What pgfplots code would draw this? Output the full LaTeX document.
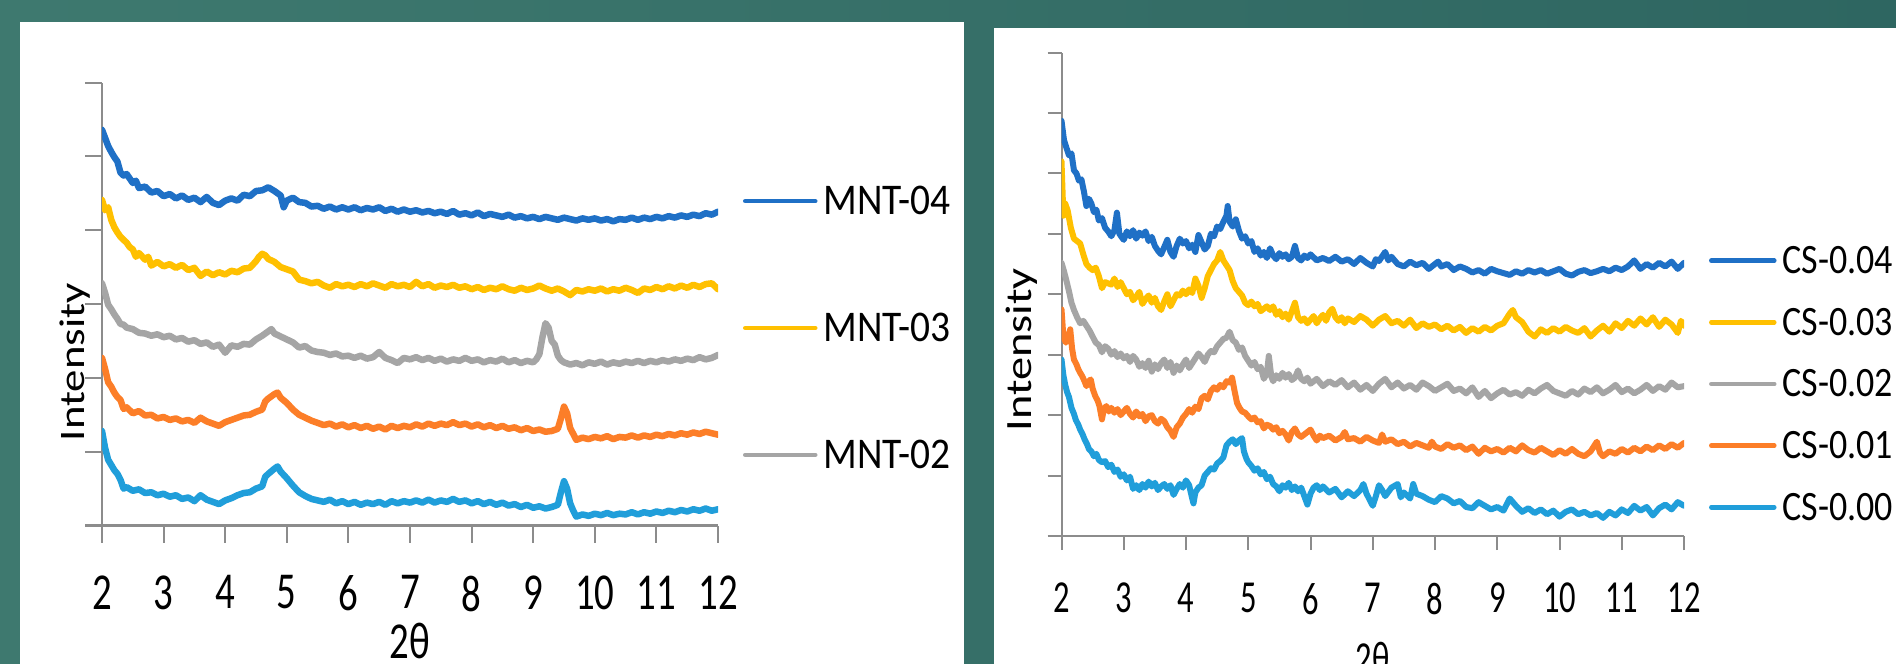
\documentclass[border=0pt]{standalone}
\usepackage{fontspec}
\usepackage{pgfplots}
\usepackage{pgfplotstable}
\pgfplotsset{compat=1.18}
\setmainfont{Carlito}
\newfontfamily\tickL[FakeStretch=0.75]{Carlito}
\newfontfamily\tickR[FakeStretch=0.71]{Carlito}
\newfontfamily\legL[FakeStretch=0.9]{Carlito}
\newfontfamily\legR[FakeStretch=0.86]{Carlito}

\definecolor{cDB}{RGB}{31,112,198}
\definecolor{cYe}{RGB}{255,192,0}
\definecolor{cGr}{RGB}{165,165,165}
\definecolor{cOr}{RGB}{252,126,40}
\definecolor{cLB}{RGB}{32,158,218}
\definecolor{axgray}{RGB}{140,140,140}
\definecolor{tealL}{RGB}{62,121,111}
\definecolor{tealR}{RGB}{46,102,97}

% ---------------- left panel (MNT) ----------------
\pgfplotstableread{
x y
2.0 5.36
2.05 5.25
2.1 5.14
2.15 5.06
2.2 4.99
2.25 4.93
2.3 4.78
2.35 4.74
2.4 4.76
2.5 4.64
2.55 4.67
2.6 4.57
2.7 4.59
2.8 4.51
2.9 4.53
3.0 4.46
3.1 4.49
3.2 4.43
3.3 4.47
3.4 4.41
3.5 4.44
3.6 4.38
3.7 4.45
3.8 4.37
3.9 4.34
4.0 4.40
4.1 4.43
4.2 4.40
4.3 4.48
4.4 4.46
4.5 4.53
4.6 4.54
4.7 4.58
4.8 4.53
4.9 4.47
4.95 4.31
5.0 4.40
5.1 4.44
5.2 4.38
5.3 4.37
5.4 4.32
5.5 4.33
5.6 4.29
5.7 4.32
5.8 4.28
5.9 4.31
6.0 4.28
6.1 4.31
6.2 4.27
6.3 4.30
6.4 4.28
6.5 4.31
6.6 4.26
6.7 4.29
6.8 4.25
6.9 4.28
7.0 4.25
7.1 4.27
7.2 4.24
7.3 4.26
7.4 4.23
7.5 4.25
7.6 4.22
7.7 4.26
7.8 4.21
7.9 4.23
8.0 4.20
8.1 4.24
8.2 4.19
8.3 4.22
8.4 4.20
8.5 4.18
8.6 4.21
8.7 4.17
8.8 4.19
8.9 4.16
9.0 4.18
9.1 4.15
9.2 4.18
9.3 4.16
9.4 4.14
9.5 4.17
9.6 4.15
9.7 4.13
9.8 4.16
9.9 4.14
10.0 4.16
10.1 4.13
10.2 4.15
10.3 4.12
10.4 4.15
10.5 4.14
10.6 4.17
10.7 4.14
10.8 4.17
10.9 4.15
11.0 4.18
11.1 4.16
11.2 4.19
11.3 4.17
11.4 4.20
11.5 4.18
11.6 4.21
11.7 4.19
11.8 4.23
11.9 4.21
12.0 4.25
}\tMNTfour

\pgfplotstableread{
x y
2.0 4.41
2.05 4.27
2.1 4.31
2.15 4.14
2.2 4.04
2.25 3.97
2.3 3.91
2.35 3.87
2.4 3.83
2.45 3.77
2.5 3.74
2.55 3.64
2.6 3.69
2.7 3.60
2.75 3.64
2.8 3.52
2.9 3.57
3.0 3.51
3.1 3.54
3.2 3.49
3.3 3.53
3.4 3.46
3.5 3.49
3.6 3.38
3.7 3.44
3.8 3.39
3.9 3.43
4.0 3.40
4.1 3.45
4.2 3.43
4.3 3.48
4.4 3.49
4.5 3.58
4.55 3.64
4.6 3.68
4.65 3.66
4.7 3.61
4.8 3.57
4.9 3.50
5.0 3.47
5.1 3.44
5.2 3.33
5.3 3.31
5.4 3.28
5.5 3.30
5.6 3.25
5.7 3.22
5.8 3.27
5.9 3.24
6.0 3.26
6.1 3.23
6.2 3.27
6.3 3.24
6.4 3.28
6.5 3.25
6.6 3.22
6.7 3.27
6.8 3.24
6.9 3.26
7.0 3.23
7.1 3.30
7.2 3.24
7.3 3.27
7.4 3.22
7.5 3.25
7.6 3.23
7.7 3.26
7.8 3.22
7.9 3.24
8.0 3.20
8.1 3.23
8.2 3.19
8.3 3.22
8.4 3.20
8.5 3.24
8.6 3.20
8.7 3.18
8.8 3.22
8.9 3.19
9.0 3.21
9.1 3.25
9.2 3.21
9.3 3.18
9.4 3.21
9.5 3.17
9.6 3.12
9.7 3.19
9.8 3.17
9.9 3.20
10.0 3.18
10.1 3.21
10.2 3.17
10.3 3.20
10.4 3.18
10.5 3.22
10.6 3.19
10.7 3.15
10.8 3.21
10.9 3.19
11.0 3.23
11.1 3.20
11.2 3.24
11.3 3.21
11.4 3.25
11.5 3.22
11.6 3.26
11.7 3.23
11.8 3.27
11.9 3.28
12.0 3.20
}\tMNTthree

\pgfplotstableread{
x y
2.0 3.28
2.05 3.15
2.1 2.99
2.15 2.93
2.2 2.86
2.25 2.80
2.3 2.73
2.35 2.72
2.4 2.68
2.5 2.66
2.6 2.61
2.7 2.60
2.8 2.57
2.9 2.59
3.0 2.55
3.1 2.57
3.2 2.52
3.3 2.54
3.4 2.49
3.5 2.51
3.6 2.46
3.7 2.48
3.8 2.42
3.9 2.45
4.0 2.34
4.1 2.44
4.2 2.42
4.3 2.46
4.4 2.45
4.5 2.52
4.6 2.57
4.7 2.63
4.75 2.66
4.8 2.60
4.9 2.56
5.0 2.52
5.1 2.48
5.2 2.41
5.3 2.43
5.4 2.37
5.5 2.35
5.6 2.34
5.7 2.31
5.8 2.33
5.9 2.29
6.0 2.30
6.1 2.27
6.2 2.30
6.3 2.26
6.4 2.28
6.5 2.35
6.6 2.27
6.7 2.24
6.8 2.20
6.9 2.27
7.0 2.25
7.1 2.28
7.2 2.24
7.3 2.27
7.4 2.23
7.5 2.26
7.6 2.22
7.7 2.25
7.8 2.23
7.9 2.27
8.0 2.23
8.1 2.25
8.2 2.21
8.3 2.24
8.4 2.22
8.5 2.26
8.6 2.21
8.7 2.24
8.8 2.20
8.9 2.23
9.0 2.21
9.05 2.25
9.1 2.32
9.15 2.55
9.2 2.74
9.25 2.68
9.3 2.50
9.35 2.45
9.4 2.30
9.45 2.24
9.5 2.21
9.6 2.18
9.7 2.20
9.8 2.17
9.9 2.21
10.0 2.19
10.1 2.22
10.2 2.18
10.3 2.21
10.4 2.19
10.5 2.22
10.6 2.20
10.7 2.23
10.8 2.20
10.9 2.23
11.0 2.21
11.1 2.24
11.2 2.22
11.3 2.25
11.4 2.23
11.5 2.26
11.6 2.24
11.7 2.28
11.8 2.25
11.9 2.27
12.0 2.31
}\tMNTtwo

\pgfplotstableread{
x y
2.0 2.27
2.05 2.12
2.1 1.94
2.15 1.88
2.2 1.80
2.25 1.74
2.3 1.70
2.35 1.58
2.4 1.60
2.5 1.52
2.6 1.55
2.7 1.49
2.8 1.50
2.9 1.45
3.0 1.47
3.1 1.43
3.2 1.45
3.3 1.41
3.4 1.43
3.5 1.39
3.6 1.46
3.7 1.41
3.8 1.38
3.9 1.35
4.0 1.40
4.1 1.43
4.2 1.46
4.3 1.49
4.4 1.50
4.5 1.54
4.6 1.57
4.65 1.68
4.7 1.72
4.8 1.78
4.85 1.80
4.9 1.73
5.0 1.66
5.1 1.57
5.2 1.50
5.3 1.46
5.4 1.42
5.5 1.39
5.6 1.36
5.7 1.38
5.8 1.34
5.9 1.37
6.0 1.33
6.1 1.36
6.2 1.32
6.3 1.35
6.4 1.31
6.5 1.34
6.6 1.30
6.7 1.35
6.8 1.32
6.9 1.35
7.0 1.33
7.1 1.37
7.2 1.34
7.3 1.38
7.4 1.35
7.5 1.38
7.6 1.36
7.7 1.40
7.8 1.36
7.9 1.38
8.0 1.34
8.1 1.37
8.2 1.33
8.3 1.36
8.4 1.32
8.5 1.35
8.6 1.31
8.7 1.33
8.8 1.29
8.9 1.32
9.0 1.28
9.1 1.30
9.2 1.27
9.3 1.28
9.4 1.31
9.45 1.45
9.5 1.61
9.55 1.52
9.6 1.32
9.65 1.24
9.7 1.16
9.8 1.19
9.9 1.17
10.0 1.20
10.1 1.18
10.2 1.21
10.3 1.17
10.4 1.20
10.5 1.19
10.6 1.22
10.7 1.19
10.8 1.22
10.9 1.20
11.0 1.23
11.1 1.21
11.2 1.24
11.3 1.22
11.4 1.25
11.5 1.23
11.6 1.26
11.7 1.24
11.8 1.27
11.9 1.25
12.0 1.23
}\tMNTone

\pgfplotstableread{
x y
2.0 1.28
2.05 1.05
2.1 0.89
2.15 0.82
2.2 0.75
2.25 0.70
2.3 0.62
2.35 0.50
2.4 0.52
2.5 0.47
2.6 0.49
2.7 0.44
2.8 0.45
2.9 0.41
3.0 0.43
3.1 0.39
3.2 0.41
3.3 0.36
3.4 0.38
3.5 0.33
3.6 0.41
3.7 0.35
3.8 0.32
3.9 0.29
4.0 0.34
4.1 0.37
4.2 0.41
4.3 0.44
4.4 0.45
4.5 0.50
4.6 0.53
4.65 0.66
4.7 0.70
4.8 0.77
4.85 0.80
4.9 0.73
5.0 0.64
5.1 0.54
5.2 0.45
5.3 0.40
5.4 0.36
5.5 0.34
5.6 0.32
5.7 0.35
5.8 0.30
5.9 0.33
6.0 0.29
6.1 0.32
6.2 0.28
6.3 0.31
6.4 0.29
6.5 0.32
6.6 0.28
6.7 0.33
6.8 0.30
6.9 0.33
7.0 0.31
7.1 0.34
7.2 0.31
7.3 0.35
7.4 0.31
7.5 0.34
7.6 0.32
7.7 0.36
7.8 0.32
7.9 0.34
8.0 0.30
8.1 0.33
8.2 0.29
8.3 0.32
8.4 0.28
8.5 0.31
8.6 0.27
8.7 0.29
8.8 0.25
8.9 0.28
9.0 0.24
9.1 0.26
9.2 0.23
9.3 0.25
9.4 0.28
9.45 0.45
9.5 0.60
9.55 0.50
9.6 0.30
9.65 0.20
9.7 0.12
9.8 0.15
9.9 0.13
10.0 0.16
10.1 0.14
10.2 0.17
10.3 0.14
10.4 0.16
10.5 0.15
10.6 0.18
10.7 0.15
10.8 0.18
10.9 0.16
11.0 0.19
11.1 0.17
11.2 0.20
11.3 0.18
11.4 0.21
11.5 0.19
11.6 0.22
11.7 0.20
11.8 0.23
11.9 0.20
12.0 0.22
}\tMNTzero

% ---------------- right panel (CS) ----------------
\pgfplotstableread{
x y
2.00 6.87
2.04 6.55
2.08 6.42
2.12 6.30
2.16 6.33
2.20 6.05
2.24 6.00
2.28 5.88
2.32 5.90
2.36 5.70
2.40 5.46
2.44 5.58
2.48 5.50
2.52 5.36
2.56 5.40
2.60 5.22
2.65 5.26
2.70 5.10
2.75 5.04
2.80 4.96
2.85 5.06
2.89 5.35
2.93 5.00
2.97 4.94
3.00 4.90
3.05 5.04
3.10 4.96
3.15 5.06
3.20 4.92
3.25 5.02
3.30 4.97
3.35 5.04
3.40 4.88
3.45 4.95
3.50 4.80
3.55 4.72
3.60 4.66
3.65 4.78
3.70 4.90
3.75 4.70
3.80 4.62
3.85 4.80
3.90 4.92
3.95 4.84
4.00 4.88
4.05 4.76
4.10 4.82
4.15 4.70
4.20 4.98
4.25 4.86
4.30 4.74
4.35 4.80
4.40 5.00
4.45 4.96
4.50 5.12
4.55 5.08
4.60 5.20
4.65 5.30
4.67 5.46
4.70 5.20
4.75 5.12
4.80 5.24
4.85 5.05
4.90 4.92
4.95 4.96
5.00 4.84
5.05 4.88
5.10 4.70
5.15 4.76
5.20 4.64
5.25 4.70
5.30 4.60
5.35 4.76
5.40 4.64
5.45 4.58
5.50 4.68
5.55 4.62
5.60 4.66
5.65 4.58
5.70 4.62
5.75 4.80
5.80 4.60
5.85 4.56
5.90 4.64
5.95 4.60
6.00 4.66
6.10 4.56
6.20 4.60
6.30 4.55
6.40 4.62
6.50 4.54
6.60 4.58
6.70 4.50
6.80 4.60
6.90 4.52
7.00 4.46
7.05 4.58
7.10 4.55
7.20 4.70
7.25 4.56
7.30 4.62
7.40 4.50
7.50 4.46
7.60 4.54
7.70 4.48
7.80 4.52
7.90 4.42
8.00 4.50
8.05 4.54
8.10 4.46
8.20 4.50
8.30 4.40
8.40 4.46
8.50 4.42
8.60 4.36
8.70 4.40
8.80 4.34
8.90 4.42
9.00 4.38
9.10 4.35
9.20 4.32
9.30 4.38
9.40 4.34
9.50 4.40
9.60 4.36
9.70 4.40
9.80 4.34
9.90 4.38
10.00 4.42
10.10 4.34
10.20 4.31
10.30 4.37
10.40 4.40
10.50 4.35
10.60 4.38
10.70 4.42
10.80 4.38
10.90 4.44
11.00 4.40
11.10 4.46
11.20 4.56
11.30 4.42
11.40 4.50
11.50 4.44
11.60 4.52
11.70 4.46
11.80 4.54
11.90 4.42
12.00 4.52
}\tCSfour

\pgfplotstableread{
x y
2.00 6.20
2.03 5.30
2.06 5.50
2.10 5.38
2.15 5.10
2.20 4.92
2.25 4.88
2.30 4.84
2.35 4.66
2.40 4.50
2.45 4.44
2.50 4.40
2.55 4.44
2.60 4.30
2.65 4.10
2.70 4.20
2.75 4.18
2.80 4.16
2.85 4.26
2.90 4.12
2.95 4.20
3.00 4.10
3.05 4.00
3.10 4.04
3.15 3.90
3.20 3.96
3.25 4.04
3.30 3.84
3.35 3.92
3.40 3.98
3.45 3.86
3.50 3.94
3.55 3.80
3.60 3.74
3.65 3.88
3.70 4.00
3.75 3.80
3.80 3.90
3.85 4.00
3.90 3.98
3.95 4.06
4.00 4.00
4.05 4.08
4.10 4.02
4.15 4.26
4.20 4.14
4.25 3.94
4.30 4.10
4.35 4.30
4.40 4.40
4.45 4.50
4.50 4.56
4.55 4.70
4.60 4.56
4.65 4.48
4.70 4.40
4.75 4.22
4.80 4.10
4.85 4.04
4.90 3.98
4.95 3.86
5.00 3.82
5.05 3.88
5.10 3.80
5.15 3.84
5.20 3.72
5.25 3.76
5.30 3.80
5.35 3.74
5.40 3.80
5.45 3.66
5.50 3.72
5.55 3.62
5.60 3.68
5.65 3.58
5.70 3.72
5.75 3.86
5.80 3.62
5.85 3.56
5.90 3.60
5.95 3.52
6.00 3.58
6.05 3.64
6.10 3.52
6.15 3.60
6.20 3.66
6.25 3.56
6.30 3.70
6.35 3.76
6.40 3.62
6.45 3.56
6.50 3.62
6.55 3.52
6.60 3.60
6.70 3.54
6.80 3.64
6.90 3.58
7.00 3.48
7.10 3.58
7.20 3.64
7.30 3.52
7.40 3.56
7.50 3.48
7.60 3.58
7.70 3.44
7.80 3.52
7.90 3.46
8.00 3.50
8.10 3.42
8.20 3.48
8.30 3.40
8.40 3.46
8.50 3.36
8.60 3.44
8.70 3.38
8.80 3.46
8.90 3.40
9.00 3.48
9.10 3.52
9.20 3.68
9.25 3.74
9.30 3.62
9.40 3.54
9.50 3.38
9.60 3.30
9.70 3.42
9.80 3.36
9.90 3.44
10.00 3.38
10.10 3.46
10.20 3.40
10.30 3.36
10.40 3.44
10.50 3.30
10.60 3.40
10.70 3.48
10.80 3.38
10.90 3.52
11.00 3.44
11.10 3.56
11.20 3.48
11.30 3.60
11.40 3.50
11.50 3.62
11.60 3.46
11.70 3.58
11.80 3.50
11.90 3.36
11.95 3.56
12.00 3.48
}\tCSthree

\pgfplotstableread{
x y
2.00 4.52
2.04 4.38
2.08 4.22
2.12 4.05
2.16 3.86
2.20 3.74
2.25 3.62
2.30 3.52
2.35 3.56
2.40 3.48
2.45 3.40
2.50 3.30
2.55 3.20
2.60 3.16
2.65 3.04
2.70 3.14
2.75 3.10
2.80 3.00
2.85 3.06
2.90 2.96
2.95 3.02
3.00 2.94
3.05 2.98
3.10 2.88
3.15 2.98
3.20 2.92
3.25 2.80
3.30 2.86
3.35 2.78
3.40 2.90
3.45 2.72
3.50 2.84
3.55 2.76
3.60 2.86
3.65 2.92
3.70 2.78
3.75 2.88
3.80 2.70
3.85 2.82
3.90 2.74
3.95 2.84
4.00 2.92
4.05 2.78
4.10 2.86
4.15 2.94
4.20 3.02
4.25 2.96
4.30 2.88
4.35 3.00
4.40 3.06
4.45 3.04
4.50 3.14
4.55 3.20
4.60 3.26
4.65 3.28
4.70 3.38
4.75 3.24
4.80 3.20
4.85 3.08
4.90 3.12
4.95 2.98
5.00 2.90
5.05 2.82
5.10 2.88
5.15 2.76
5.20 2.80
5.25 2.60
5.30 2.70
5.33 2.98
5.37 2.64
5.40 2.56
5.45 2.66
5.50 2.60
5.55 2.70
5.60 2.62
5.65 2.68
5.70 2.58
5.75 2.62
5.80 2.74
5.85 2.60
5.90 2.56
5.95 2.62
6.00 2.52
6.10 2.60
6.20 2.48
6.30 2.56
6.40 2.50
6.50 2.58
6.60 2.46
6.70 2.54
6.80 2.42
6.90 2.50
7.00 2.40
7.10 2.52
7.20 2.60
7.30 2.46
7.40 2.54
7.50 2.44
7.60 2.50
7.70 2.42
7.80 2.54
7.90 2.48
8.00 2.40
8.10 2.46
8.20 2.52
8.30 2.40
8.40 2.44
8.50 2.36
8.60 2.46
8.70 2.30
8.80 2.40
8.90 2.28
9.00 2.36
9.10 2.42
9.20 2.34
9.30 2.38
9.40 2.32
9.50 2.42
9.60 2.36
9.70 2.44
9.80 2.50
9.90 2.40
10.00 2.36
10.10 2.32
10.20 2.40
10.30 2.34
10.40 2.44
10.50 2.38
10.60 2.46
10.70 2.36
10.80 2.42
10.90 2.50
11.00 2.38
11.10 2.44
11.20 2.36
11.30 2.42
11.40 2.50
11.50 2.40
11.60 2.48
11.70 2.42
11.80 2.54
11.90 2.46
12.00 2.48
}\tCStwo

\pgfplotstableread{
x y
2.00 3.75
2.03 3.30
2.07 3.20
2.11 3.30
2.14 3.42
2.17 3.10
2.20 2.92
2.24 2.84
2.27 2.76
2.30 2.70
2.33 2.65
2.37 2.56
2.40 2.48
2.44 2.56
2.47 2.59
2.50 2.44
2.54 2.32
2.58 2.24
2.61 2.15
2.65 1.93
2.68 2.10
2.72 2.15
2.76 2.06
2.80 2.12
2.85 2.04
2.90 2.10
2.95 2.00
3.00 2.06
3.05 2.12
3.10 2.02
3.15 1.96
3.20 2.06
3.25 1.98
3.30 2.02
3.35 1.90
3.40 1.98
3.45 2.00
3.50 1.90
3.55 1.86
3.60 1.94
3.65 1.90
3.70 1.80
3.75 1.74
3.80 1.64
3.85 1.80
3.90 1.86
3.95 1.96
4.00 2.02
4.05 2.10
4.10 2.04
4.15 2.14
4.20 2.10
4.25 2.28
4.30 2.32
4.35 2.26
4.40 2.40
4.45 2.46
4.50 2.42
4.55 2.50
4.60 2.46
4.65 2.56
4.70 2.54
4.74 2.62
4.78 2.40
4.82 2.20
4.86 2.12
4.90 2.06
4.95 2.04
5.00 1.98
5.05 1.93
5.10 1.96
5.15 1.88
5.20 1.90
5.25 1.78
5.30 1.84
5.35 1.82
5.40 1.76
5.45 1.80
5.50 1.70
5.55 1.74
5.60 1.68
5.65 1.58
5.70 1.72
5.75 1.78
5.80 1.68
5.85 1.64
5.90 1.68
5.95 1.72
6.00 1.76
6.05 1.66
6.10 1.58
6.15 1.66
6.20 1.62
6.30 1.66
6.40 1.58
6.50 1.64
6.55 1.72
6.60 1.60
6.70 1.62
6.80 1.56
6.90 1.64
7.00 1.58
7.10 1.54
7.15 1.68
7.20 1.56
7.30 1.60
7.40 1.52
7.50 1.56
7.60 1.48
7.70 1.54
7.80 1.50
7.90 1.46
7.95 1.56
8.00 1.48
8.10 1.44
8.20 1.52
8.30 1.46
8.40 1.50
8.50 1.42
8.60 1.48
8.70 1.36
8.80 1.46
8.90 1.40
9.00 1.44
9.10 1.38
9.20 1.46
9.30 1.40
9.40 1.50
9.50 1.42
9.60 1.38
9.70 1.46
9.80 1.40
9.90 1.34
10.00 1.42
10.10 1.36
10.20 1.44
10.30 1.36
10.40 1.32
10.50 1.40
10.60 1.56
10.65 1.38
10.70 1.32
10.80 1.40
10.90 1.36
11.00 1.44
11.10 1.38
11.20 1.46
11.30 1.40
11.40 1.48
11.50 1.42
11.60 1.50
11.70 1.44
11.80 1.52
11.90 1.46
12.00 1.54
}\tCSone

\pgfplotstableread{
x y
2.00 2.92
2.03 2.66
2.06 2.50
2.09 2.38
2.12 2.30
2.16 2.12
2.20 2.02
2.23 1.92
2.27 1.84
2.30 1.76
2.34 1.68
2.37 1.60
2.41 1.52
2.44 1.44
2.48 1.40
2.52 1.32
2.56 1.36
2.60 1.26
2.65 1.22
2.70 1.24
2.75 1.14
2.80 1.18
2.85 1.06
2.90 1.10
2.95 0.98
3.00 1.02
3.05 0.92
3.10 0.98
3.15 0.78
3.20 0.84
3.25 0.76
3.30 0.86
3.35 0.80
3.40 0.90
3.45 0.82
3.50 0.88
3.55 0.76
3.60 0.82
3.65 0.86
3.70 0.78
3.75 0.84
3.80 0.68
3.85 0.78
3.90 0.86
3.95 0.80
4.00 0.92
4.05 0.84
4.10 0.62
4.12 0.54
4.15 0.72
4.20 0.80
4.25 0.84
4.30 1.00
4.35 1.06
4.40 1.12
4.45 1.10
4.50 1.20
4.55 1.24
4.60 1.30
4.65 1.50
4.70 1.56
4.75 1.60
4.80 1.52
4.85 1.58
4.90 1.62
4.93 1.40
4.97 1.28
5.00 1.22
5.05 1.16
5.10 1.08
5.15 1.12
5.20 1.02
5.25 1.06
5.30 0.94
5.35 0.98
5.40 0.86
5.45 0.82
5.50 0.74
5.55 0.84
5.60 0.80
5.65 0.88
5.70 0.76
5.75 0.82
5.80 0.74
5.85 0.80
5.90 0.66
5.95 0.52
6.00 0.70
6.05 0.80
6.10 0.84
6.15 0.76
6.20 0.82
6.30 0.72
6.40 0.78
6.50 0.64
6.60 0.74
6.70 0.66
6.80 0.76
6.85 0.86
6.90 0.70
7.00 0.50
7.05 0.66
7.10 0.84
7.15 0.76
7.20 0.66
7.30 0.80
7.40 0.86
7.45 0.64
7.50 0.72
7.60 0.62
7.65 0.86
7.70 0.70
7.80 0.66
7.90 0.60
8.00 0.56
8.10 0.66
8.20 0.62
8.30 0.54
8.40 0.58
8.50 0.48
8.60 0.46
8.70 0.56
8.80 0.50
8.90 0.44
9.00 0.48
9.10 0.42
9.20 0.62
9.30 0.50
9.40 0.40
9.50 0.46
9.60 0.38
9.70 0.44
9.80 0.36
9.90 0.42
10.00 0.32
10.10 0.40
10.20 0.44
10.30 0.36
10.40 0.40
10.50 0.34
10.60 0.38
10.70 0.30
10.80 0.40
10.90 0.34
11.00 0.44
11.10 0.38
11.20 0.50
11.30 0.42
11.40 0.48
11.50 0.34
11.60 0.46
11.70 0.52
11.80 0.44
11.90 0.56
12.00 0.50
}\tCSzero

\pgfplotsset{
  xrd/.style={
    scale only axis,
    anchor=south west,
    xmin=2, xmax=12,
    xtick={2,...,12},
    axis lines*=left,
    axis line style={draw=axgray, line width=2bp},
    tick style={draw=axgray, line width=2bp},
    tick align=outside,
    yticklabels={},
    /pgf/number format/assume math mode=true,
    legend cell align=left,
  },
}

\begin{document}
\begin{tikzpicture}
\useasboundingbox (0,0) rectangle (1896bp,664bp);
\shade[left color=tealL, right color=tealR] (0,0) rectangle (1896bp,664bp);
\fill[white] (20bp,0) rectangle (964bp,642bp);
\fill[white] (994bp,0) rectangle (1896bp,636bp);
\clip (0,0) rectangle (1896bp,664bp);

\begin{axis}[xrd,
  at={(102bp,138.5bp)}, width=616bp, height=443bp,
  ymin=0, ymax=6, ytick={0,...,6},
  major tick length=17bp,
  xticklabel style={font=\tickL\fontsize{52}{52}\selectfont, inner sep=0pt, anchor=north, yshift=-33bp},
  xlabel={2θ},
  xlabel style={font=\tickL\fontsize{52}{52}\selectfont, inner sep=0pt, at={(axis description cs:0.5,0)}, anchor=center, yshift=-115bp},
  ylabel={\scalebox{1}[0.8]{Intensity}},
  ylabel style={font=\fontsize{45}{45}\selectfont, at={(axis description cs:-0.0438,0.369)}, anchor=center},
  legend style={draw=none, fill=none, at={(axis description cs:1.0406,0.4458)}, anchor=west,
    inner sep=0pt, outer sep=0pt, row sep=97bp, font=\legL\fontsize{44}{44}\selectfont,
    nodes={inner sep=0pt}, /tikz/every odd column/.append style={column sep=6bp}},
  legend image code/.code={\draw[#1, line width=4.5bp, line cap=round] (0bp,0bp) -- (70bp,0bp);},
]
\addplot[color=cDB, line width=6.5bp, line join=round, line cap=round] table {\tMNTfour}; \addlegendentry{MNT-04}
\addplot[color=cYe, line width=6.5bp, line join=round, line cap=round] table {\tMNTthree}; \addlegendentry{MNT-03}
\addplot[color=cGr, line width=6.5bp, line join=round, line cap=round] table {\tMNTtwo}; \addlegendentry{MNT-02}
\addplot[color=cOr, line width=6.5bp, line join=round, line cap=round, forget plot] table {\tMNTone};
\addplot[color=cLB, line width=6.5bp, line join=round, line cap=round, forget plot] table {\tMNTzero};
\end{axis}

\begin{axis}[xrd,
  at={(1061.5bp,128bp)}, width=622.5bp, height=483.5bp,
  ymin=0, ymax=8, ytick={0,...,8},
  major tick length=14bp,
  xticklabel style={font=\tickR\fontsize{46}{46}\selectfont, inner sep=0pt, anchor=north, yshift=-33bp},
  xlabel={2θ},
  xlabel style={font=\tickR\fontsize{46}{46}\selectfont, at={(axis description cs:0.5,0)}, anchor=center, yshift=-122bp},
  ylabel={\scalebox{1}[0.8]{Intensity}},
  ylabel style={font=\fontsize{46.5}{46.5}\selectfont, at={(axis description cs:-0.0635,0.385)}, anchor=center},
  legend style={draw=none, fill=none, at={(axis description cs:1.0402,0.3144)}, anchor=west,
    inner sep=0pt, outer sep=0pt, row sep=33bp, font=\legR\fontsize{42}{42}\selectfont,
    nodes={inner sep=0pt}, /tikz/every odd column/.append style={column sep=6bp}},
  legend image code/.code={\draw[#1, line width=4.5bp, line cap=round] (0bp,0bp) -- (63bp,0bp);},
]
\addplot[color=cDB, line width=6bp, line join=round, line cap=round] table {\tCSfour}; \addlegendentry{CS-0.04}
\addplot[color=cYe, line width=6bp, line join=round, line cap=round] table {\tCSthree}; \addlegendentry{CS-0.03}
\addplot[color=cGr, line width=6bp, line join=round, line cap=round] table {\tCStwo}; \addlegendentry{CS-0.02}
\addplot[color=cOr, line width=6bp, line join=round, line cap=round] table {\tCSone}; \addlegendentry{CS-0.01}
\addplot[color=cLB, line width=6bp, line join=round, line cap=round] table {\tCSzero}; \addlegendentry{CS-0.00}
\end{axis}
\end{tikzpicture}
\end{document}
